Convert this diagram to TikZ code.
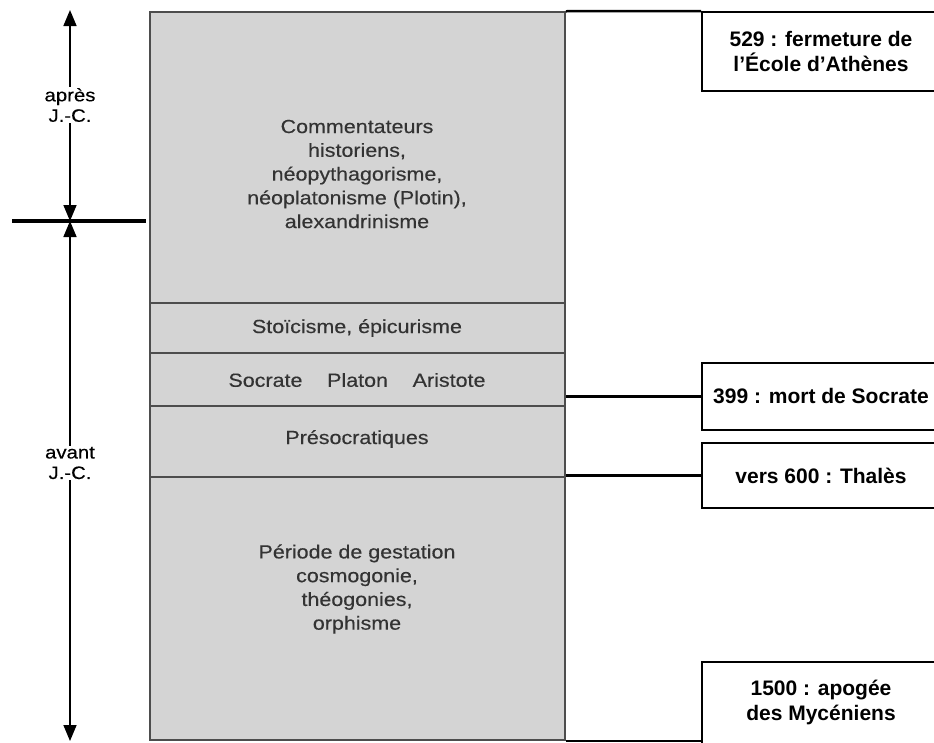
\documentclass[tikz,border=0pt]{standalone}
\usepackage{fontspec}
\setmainfont{Liberation Sans}
\newfontfamily\grisfont{Liberation Sans}[FakeStretch=1.13,FakeBold=0.3]
\usetikzlibrary{arrows.meta,positioning}
\definecolor{grisfond}{HTML}{D4D4D4}
\definecolor{grisbord}{HTML}{4D4D4D}
\definecolor{gristexte}{HTML}{333333}

\begin{document}
\begin{tikzpicture}[
  x=1pt, y=-1pt,
  periode/.style={text=gristexte, align=center, font=\grisfont\fontsize{19}{23.75}\selectfont},
  evenement/.style={draw=black, line width=2pt, fill=white, minimum width=238pt, inner sep=0pt, align=center, font=\bfseries\fontsize{21}{25}\selectfont},
  lien/.style={line width=2.5pt},
  epoque/.style={fill=white, align=center, inner sep=1pt, font=\grisfont\fontsize{18}{20.5}\selectfont},
  fleche/.style={{Triangle[length=16pt,width=13pt]}-{Triangle[length=16pt,width=13pt]}, line width=1.6pt}
]
\useasboundingbox (0,0) rectangle (934,742);
% colonne grise des periodes
\node[draw=grisbord, fill=grisfond, line width=1.5pt, minimum width=415pt, minimum height=728pt, inner sep=0pt] (colonne) at (357.5,376) {};
\foreach \y in {303,353,406,477}
  \draw[grisbord, line width=1.5pt] (colonne.west |- 0,\y) -- (colonne.east |- 0,\y);
\node[periode] (commentateurs) at (357,174) {Commentateurs\\historiens,\\néopythagorisme,\\néoplatonisme (Plotin),\\alexandrinisme};
\node[periode] (stoicisme) at (357,328) {Stoïcisme, épicurisme};
\node[periode] (socrate) at (357,380) {Socrate\hspace{1.3em}Platon\hspace{1.3em}Aristote};
\node[periode] (presocratiques) at (357,439) {Présocratiques};
\node[periode] (gestation) at (357,589) {Période de gestation\\cosmogonie,\\théogonies,\\orphisme};
% evenements
\node[evenement, minimum height=79pt] (ecole) at (821,51.5) {529 : fermeture de\\l'École d'Athènes};
\node[evenement, minimum height=67pt] (mortsocrate) at (821,396.5) {399 : mort de Socrate};
\node[evenement, minimum height=65pt] (thales) at (821,475.5) {vers 600 : Thalès};
\node[evenement, minimum height=82pt] (myceniens) at (821,702.5) {1500 : apogée\\des Mycéniens};
\draw[lien] (colonne.north east) -- (ecole.north west);
\draw[lien] (mortsocrate.west) -- (mortsocrate.west -| colonne.east);
\draw[lien] (thales.west) -- (thales.west -| colonne.east);
\draw[lien] (colonne.south east) -- (colonne.south east -| myceniens.west);
% axe du temps
\coordinate (haut) at (70,10);
\coordinate (ere) at (70,221);
\coordinate (bas) at (70,741);
\coordinate (limite) at (12,221);
\draw[fleche] (haut) -- (ere);
\draw[fleche] (ere) -- (bas);
\draw[line width=3.5pt, shorten >=3pt] (limite) -- (limite -| colonne.west);
\node[epoque] (apres) at (70,105) {après\\J.-C.};
\node[epoque] (avant) at (70,463) {avant\\J.-C.};
\end{tikzpicture}
\end{document}
